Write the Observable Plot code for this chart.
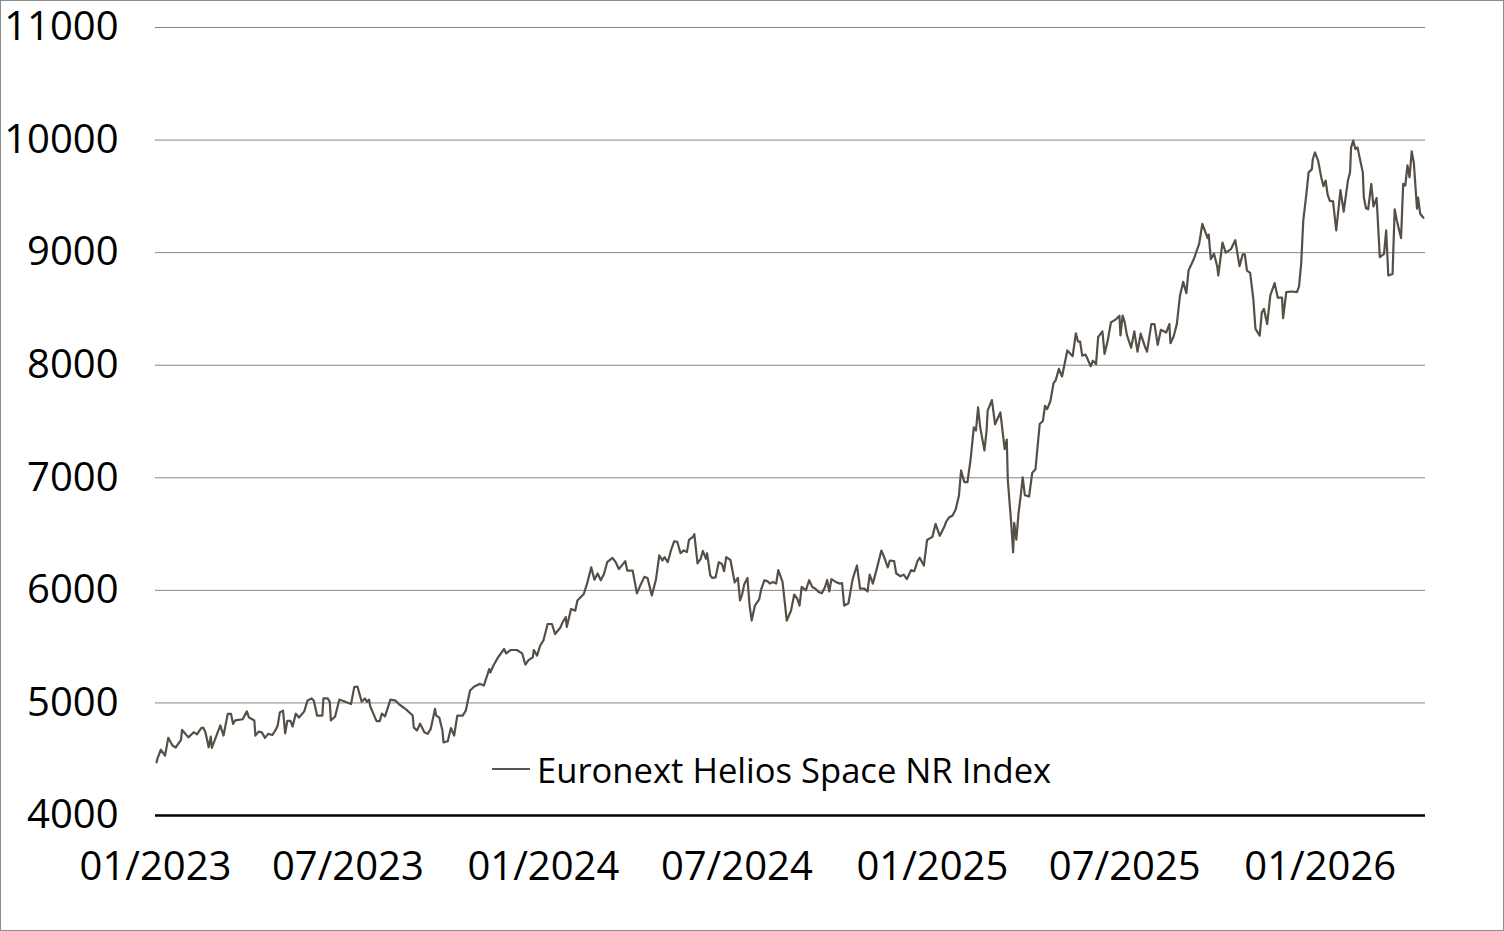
<!DOCTYPE html>
<html><head><meta charset="utf-8">
<script src="https://cdn.jsdelivr.net/npm/d3@7"></script>
<script src="https://cdn.jsdelivr.net/npm/@observablehq/plot@0.6"></script>
<style>
html,body{margin:0;padding:0;background:#fff;}
#wrap{position:relative;width:1504px;height:931px;overflow:hidden;}
#wrap svg{display:block;}
#frame{position:absolute;left:0;top:0;width:1504px;height:931px;box-sizing:border-box;border:1px solid #8c8c8c;pointer-events:none;}
#legend{position:absolute;left:492px;top:749px;height:40px;display:flex;align-items:center;font-family:"Open Sans";font-size:34.6px;color:#000;white-space:nowrap;}
#legend .sw{display:inline-block;width:38px;height:0;border-top:2px solid #5b544b;margin-right:7px;}
</style></head>
<body><div id="wrap"></div>
<script>
const seriesName = "Euronext Helios Space NR Index";
const yTicks = [4000,5000,6000,7000,8000,9000,10000,11000];
const xTickLabels = ["01/2023","07/2023","01/2024","07/2024","01/2025","07/2025","01/2026"];
const xDomain = ["2023-01-01","2026-04-10"];
const dates = [
"2023-01-02","2023-01-03","2023-01-06","2023-01-10","2023-01-13","2023-01-17","2023-01-20","2023-01-25","2023-01-26","2023-02-01",
"2023-02-06","2023-02-09","2023-02-13","2023-02-15","2023-02-17","2023-02-20","2023-02-22","2023-02-23","2023-02-27","2023-03-03",
"2023-03-06","2023-03-10","2023-03-13","2023-03-15","2023-03-17","2023-03-24","2023-03-28","2023-03-30","2023-04-04","2023-04-05",
"2023-04-08","2023-04-11","2023-04-14","2023-04-17","2023-04-21","2023-04-24","2023-04-26","2023-04-28","2023-05-01","2023-05-03",
"2023-05-05","2023-05-08","2023-05-10","2023-05-13","2023-05-16","2023-05-21","2023-05-24","2023-05-28","2023-05-30","2023-06-02",
"2023-06-07","2023-06-08","2023-06-12","2023-06-14","2023-06-15","2023-06-19","2023-06-23","2023-06-26","2023-07-04","2023-07-07",
"2023-07-10","2023-07-14","2023-07-17","2023-07-19","2023-07-21","2023-07-22","2023-07-25","2023-07-28","2023-07-31","2023-08-02",
"2023-08-05","2023-08-10","2023-08-15","2023-08-18","2023-08-23","2023-08-25","2023-08-31","2023-09-01","2023-09-04","2023-09-07",
"2023-09-11","2023-09-14","2023-09-17","2023-09-21","2023-09-22","2023-09-25","2023-09-28","2023-09-29","2023-10-03","2023-10-06",
"2023-10-09","2023-10-12","2023-10-17","2023-10-20","2023-10-24","2023-10-28","2023-11-01","2023-11-02","2023-11-06","2023-11-11",
"2023-11-12","2023-11-15","2023-11-19","2023-11-25","2023-11-27","2023-12-01","2023-12-07","2023-12-12","2023-12-15","2023-12-18",
"2023-12-22","2023-12-23","2023-12-26","2023-12-29",
"2024-01-01","2024-01-05","2024-01-09","2024-01-12","2024-01-17","2024-01-19","2024-01-22","2024-01-23","2024-01-27","2024-01-31",
"2024-02-02","2024-02-08","2024-02-11","2024-02-15","2024-02-18","2024-02-21","2024-02-24","2024-02-27","2024-03-01","2024-03-06",
"2024-03-09","2024-03-12","2024-03-16","2024-03-18","2024-03-20","2024-03-25","2024-03-29","2024-04-01","2024-04-05","2024-04-08",
"2024-04-12","2024-04-16","2024-04-19","2024-04-22","2024-04-24","2024-04-27","2024-04-30","2024-05-03","2024-05-06","2024-05-09",
"2024-05-12","2024-05-15","2024-05-17","2024-05-21","2024-05-22","2024-05-25","2024-05-28","2024-05-30","2024-06-02","2024-06-03",
"2024-06-06","2024-06-08","2024-06-11","2024-06-14","2024-06-17","2024-06-19","2024-06-21","2024-06-25","2024-06-29","2024-07-02",
"2024-07-04","2024-07-06","2024-07-08","2024-07-11","2024-07-13","2024-07-15","2024-07-18","2024-07-22","2024-07-24","2024-07-27",
"2024-07-30","2024-08-01","2024-08-04","2024-08-07","2024-08-09","2024-08-13","2024-08-17","2024-08-21","2024-08-24","2024-08-27",
"2024-08-29","2024-08-31","2024-09-04","2024-09-07","2024-09-10","2024-09-13","2024-09-16","2024-09-19","2024-09-22","2024-09-24",
"2024-09-26","2024-09-28","2024-10-02","2024-10-06","2024-10-08","2024-10-10","2024-10-14","2024-10-18","2024-10-22","2024-10-25",
"2024-10-29","2024-11-01","2024-11-03","2024-11-06","2024-11-10","2024-11-14","2024-11-16","2024-11-20","2024-11-22","2024-11-26",
"2024-11-28","2024-12-02","2024-12-05","2024-12-08","2024-12-12","2024-12-15","2024-12-18","2024-12-20","2024-12-24","2024-12-27",
"2025-01-01","2025-01-04","2025-01-08","2025-01-12","2025-01-14","2025-01-17","2025-01-20","2025-01-23","2025-01-26","2025-01-28",
"2025-01-31","2025-02-03","2025-02-06","2025-02-09","2025-02-11","2025-02-13","2025-02-15","2025-02-19","2025-02-21","2025-02-22",
"2025-02-26","2025-03-01","2025-03-06","2025-03-10","2025-03-12","2025-03-13","2025-03-16","2025-03-18","2025-03-19","2025-03-21",
"2025-03-23","2025-03-25","2025-03-27","2025-03-29","2025-04-02","2025-04-05","2025-04-08","2025-04-12","2025-04-15","2025-04-17",
"2025-04-19","2025-04-22","2025-04-25","2025-04-27","2025-04-30","2025-05-03","2025-05-08","2025-05-13","2025-05-16","2025-05-18",
"2025-05-20","2025-05-22","2025-05-25","2025-05-27","2025-05-30","2025-06-01","2025-06-04","2025-06-06","2025-06-10","2025-06-12",
"2025-06-15","2025-06-18","2025-06-23","2025-06-26","2025-06-27","2025-06-29","2025-07-01","2025-07-03","2025-07-07","2025-07-10",
"2025-07-13","2025-07-16","2025-07-20","2025-07-22","2025-07-26","2025-07-29","2025-08-01","2025-08-04","2025-08-09","2025-08-12",
"2025-08-13","2025-08-16","2025-08-19","2025-08-22","2025-08-25","2025-08-28","2025-08-30","2025-09-04","2025-09-09","2025-09-12",
"2025-09-15","2025-09-17","2025-09-18","2025-09-20","2025-09-23","2025-09-26","2025-09-27","2025-10-01","2025-10-04","2025-10-09",
"2025-10-13","2025-10-17","2025-10-20","2025-10-22","2025-10-24","2025-10-27","2025-10-30","2025-11-01","2025-11-05","2025-11-07",
"2025-11-09","2025-11-12","2025-11-15","2025-11-19","2025-11-22","2025-11-26","2025-11-27","2025-11-30","2025-12-05","2025-12-10",
"2025-12-12","2025-12-14","2025-12-16","2025-12-19","2025-12-21","2025-12-24","2025-12-25","2025-12-27","2025-12-30",
"2026-01-02","2026-01-04","2026-01-06","2026-01-08","2026-01-10","2026-01-13","2026-01-16","2026-01-20","2026-01-23","2026-01-27",
"2026-01-29","2026-01-30","2026-02-01","2026-02-03","2026-02-05","2026-02-08","2026-02-10","2026-02-11","2026-02-13","2026-02-15",
"2026-02-18","2026-02-20","2026-02-23","2026-02-26","2026-03-02","2026-03-04","2026-03-06","2026-03-10","2026-03-12","2026-03-14",
"2026-03-18","2026-03-20","2026-03-22","2026-03-24","2026-03-26","2026-03-28","2026-03-30","2026-04-02","2026-04-03","2026-04-05",
"2026-04-08"
];
const values = [
4473,4510,4584,4533,4690,4622,4604,4671,4760,4694,
4740,4720,4777,4780,4740,4606,4700,4600,4700,4800,
4710,4903,4903,4813,4845,4855,4925,4870,4844,4710,
4745,4738,4690,4725,4715,4760,4800,4916,4932,4730,
4840,4840,4790,4905,4870,4925,5022,5040,5020,4888,
4888,5040,5040,5010,4844,4880,5030,5020,4990,5140,
5146,5010,5040,5010,5030,4970,4905,4838,4838,4905,
4880,5030,5020,4990,4955,4940,4888,4783,4755,4815,
4740,4725,4770,4947,4890,4870,4755,4650,4660,4777,
4710,4888,4888,4932,5110,5146,5163,5170,5155,5301,
5270,5332,5400,5479,5440,5470,5470,5440,5341,5380,
5405,5470,5420,5510,
5555,5701,5701,5612,5670,5715,5763,5675,5834,5820,
5910,5968,6057,6204,6095,6150,6090,6145,6250,6288,
6250,6190,6235,6260,6175,6175,5973,6040,6120,6110,
5955,6100,6310,6265,6295,6250,6354,6436,6430,6330,
6355,6340,6448,6478,6500,6240,6280,6350,6280,6330,
6132,6110,6115,6250,6235,6170,6295,6270,6070,6110,
5910,5965,6055,6110,5865,5732,5865,5920,6010,6090,
6080,6060,6075,6060,6180,6075,5732,5820,5963,5925,
5865,6030,6000,6090,6030,6015,5985,5975,6030,6092,
5990,6100,6075,6060,6065,5865,5885,6100,6221,6015,
6015,5990,6140,6060,6204,6354,6310,6204,6265,6260,
6150,6125,6140,6100,6180,6170,6260,6290,6220,6448,
6475,6590,6485,6560,6610,6650,6665,6720,6843,7065,
6962,6962,7167,7448,7420,7625,7448,7243,7420,7597,
7690,7475,7580,7255,7340,6976,6620,6338,6600,6450,
6680,6830,7003,6845,6835,7045,7075,7478,7505,7640,
7610,7680,7840,7865,7967,7900,8131,8080,8283,8210,
8210,8085,8095,8055,7990,8040,8010,8250,8300,8100,
8220,8380,8410,8440,8265,8440,8380,8270,8155,8300,
8120,8280,8165,8120,8365,8365,8180,8315,8290,8365,
8195,8255,8365,8620,8740,8640,8840,8943,9077,9255,
9180,9130,9160,8943,8990,8880,8797,9090,9000,9032,
9110,8880,8985,8985,8840,8820,8588,8322,8263,8470,
8500,8365,8620,8730,8600,8600,8418,8650,8655,8650,
8700,8900,9285,9528,9713,9740,9832,9890,9815,
9665,9590,9640,9510,9460,9455,9197,9555,9365,9640,
9713,9935,9995,9920,9935,9800,9713,9490,9395,9385,
9610,9410,9485,8960,8990,9197,8797,8810,9385,9285,
9130,9610,9595,9775,9670,9900,9800,9390,9490,9345,
9310
];

const parseTick = d3.utcParse("%m/%Y");
const fmtTick = d3.utcFormat("%m/%Y");
const xTicks = xTickLabels.map(parseTick);
const data = dates.map((d, i) => ({date: new Date(d), value: values[i]}));

const chart = Plot.plot({
  width: 1504,
  height: 931,
  marginLeft: 155,
  marginRight: 79,
  marginTop: 27,
  marginBottom: 116,
  style: {fontFamily: "'Open Sans'", fontSize: "40px", color: "#000", background: "#fff", overflow: "visible"},
  x: {type: "utc", domain: xDomain.map(d => new Date(d)), ticks: xTicks, tickFormat: fmtTick, tickSize: 0, tickPadding: 36, label: null},
  y: {domain: [4000, 11000], ticks: yTicks, tickFormat: d => String(d), tickSize: 0, tickPadding: 37, label: null},
  marks: [
    Plot.ruleY(yTicks.filter(v => v > 4000), {stroke: "#868686", strokeWidth: 1}),
    Plot.ruleY([4000], {stroke: "#000", strokeWidth: 2.5}),
    Plot.lineY(data, {x: "date", y: "value", stroke: "#564f46", strokeWidth: 2.2, curve: "linear"})
  ]
});

const wrap = document.getElementById("wrap");
wrap.appendChild(chart);
const legend = document.createElement("div");
legend.id = "legend";
legend.innerHTML = '<span class="sw"></span><span></span>';
legend.lastChild.textContent = seriesName;
wrap.appendChild(legend);
const frame = document.createElement("div");
frame.id = "frame";
wrap.appendChild(frame);
</script>
</body></html>
